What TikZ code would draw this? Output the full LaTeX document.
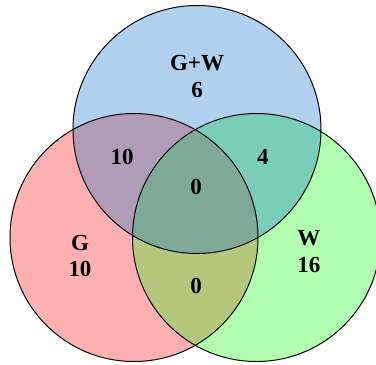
\documentclass[tikz,border=0pt]{standalone}
\usepackage{fontspec}
\setmainfont{Liberation Serif}
\definecolor{setT}{RGB}{176,208,240}
\definecolor{setL}{RGB}{255,176,176}
\definecolor{setR}{RGB}{176,255,176}
\definecolor{setLT}{RGB}{176,155,185}
\definecolor{setRT}{RGB}{122,206,185}
\definecolor{setLR}{RGB}{180,200,125}
\definecolor{setLRT}{RGB}{125,170,150}
\tikzset{
  ring/.style={draw=black, line width=1pt},
  count/.style={font=\fontsize{23}{26.5}\selectfont\bfseries, align=center, inner sep=0pt},
}
\begin{document}
\begin{tikzpicture}[x=1pt,y=-1pt]
  \clip (0,0) rectangle (376,365);
  \fill[white] (0,0) rectangle (376,365);
  % circle centres and common radius
  \coordinate (cT) at (197,129.5);
  \coordinate (cL) at (134,237.5);
  \coordinate (cR) at (256.5,237.5);
  \def\rad{124}
  % single sets
  \fill[setL] (cL) circle (\rad);
  \fill[setR] (cR) circle (\rad);
  \fill[setT] (cT) circle (\rad);
  % pairwise overlaps
  \begin{scope}
    \clip (cL) circle (\rad);
    \fill[setLT] (cT) circle (\rad);
    \fill[setLR] (cR) circle (\rad);
  \end{scope}
  \begin{scope}
    \clip (cR) circle (\rad);
    \fill[setRT] (cT) circle (\rad);
  \end{scope}
  % triple overlap
  \begin{scope}
    \clip (cL) circle (\rad);
    \clip (cR) circle (\rad);
    \fill[setLRT] (cT) circle (\rad);
  \end{scope}
  % outlines
  \draw[ring] (cT) circle (\rad);
  \draw[ring] (cL) circle (\rad);
  \draw[ring] (cR) circle (\rad);
  % counts
  \node[count] (nT)   at (197,76.5) {G+W\\6};
  \node[count] (nLT)  at (122,157) {10};
  \node[count] (nRT)  at (263,157) {4};
  \node[count] (nLRT) at (196,187) {0};
  \node[count] (nL)   at (80,256) {G\\10};
  \node[count] (nR)   at (309,251.5) {W\\16};
  \node[count] (nLR)  at (196,286) {0};
\end{tikzpicture}
\end{document}
